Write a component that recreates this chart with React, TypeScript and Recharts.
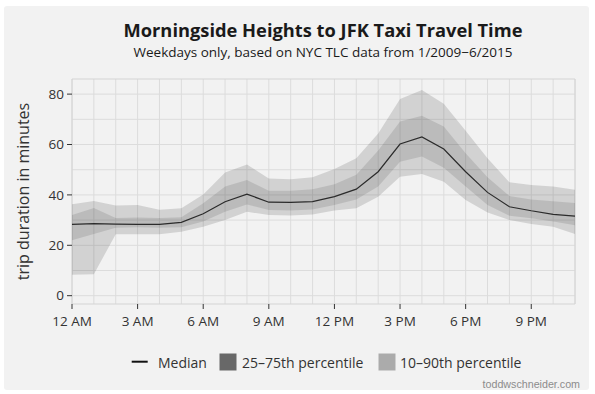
import React from "react";
import { ComposedChart, Area, Line, XAxis, YAxis, CartesianGrid, ReferenceArea } from "recharts";

const hours = [0, 1, 2, 3, 4, 5, 6, 7, 8, 9, 10, 11, 12, 13, 14, 15, 16, 17, 18, 19, 20, 21, 22, 23];
const median = [28.3, 28.6, 28.4, 28.3, 28.3, 29.1, 32.5, 37.3, 40.3, 37.1, 37.0, 37.3, 39.3, 42.3, 49.2, 60.2, 63.0, 58.2, 49.2, 41.0, 35.3, 33.7, 32.3, 31.6];
const p75 = [32.0, 34.8, 30.8, 31.0, 30.8, 31.1, 36.7, 43.3, 45.9, 41.6, 41.6, 42.2, 44.2, 48.0, 57.6, 69.1, 71.4, 67.1, 56.5, 47.0, 39.6, 38.2, 37.5, 36.8];
const p25 = [22.0, 24.5, 27.0, 27.2, 27.0, 27.2, 29.4, 33.3, 36.2, 34.0, 33.8, 34.2, 36.0, 38.2, 43.3, 53.2, 55.2, 50.8, 43.3, 36.0, 31.7, 30.7, 29.4, 28.0];
const p90 = [36.3, 37.6, 35.8, 36.0, 34.1, 34.7, 40.2, 48.9, 52.1, 46.5, 46.2, 47.0, 50.3, 54.5, 64.4, 78.1, 81.6, 76.2, 65.5, 54.5, 45.0, 43.9, 43.3, 42.0];
const p10 = [8.3, 8.5, 24.4, 24.4, 24.4, 25.4, 27.4, 30.0, 33.3, 32.0, 31.8, 32.2, 33.8, 34.7, 39.3, 47.2, 48.3, 45.2, 38.0, 33.0, 30.0, 28.5, 27.4, 24.5];

const xTicks = [0, 3, 6, 9, 12, 15, 18, 21];
const xTickLabels = ["12 AM", "3 AM", "6 AM", "9 AM", "12 PM", "3 PM", "6 PM", "9 PM"];
const yTicks = [0, 20, 40, 60, 80];
const yGrid = [0, 10, 20, 30, 40, 50, 60, 70, 80];
const yDomain = [-3.3, 86];

const title = "Morningside Heights to JFK Taxi Travel Time";
const subtitle = "Weekdays only, based on NYC TLC data from 1/2009\u22126/2015";
const yLabel = "trip duration in minutes";
const legendLabels = ["Median", "25\u201375th percentile", "10\u201390th percentile"];
const credit = "toddwschneider.com";

const data = hours.map((h, i) => ({
  hour: h,
  median: median[i],
  band90: [p10[i], p90[i]],
  band50: [p25[i], p75[i]],
}));

const FONT = "'Open Sans', 'Noto Sans', sans-serif";

export default function App() {
  return (
    <div style={{ position: "absolute", left: 0, top: 0, width: 595, height: 394, background: "#ffffff", fontFamily: FONT }}>
      <div style={{ position: "absolute", left: 4, top: 6, width: 585, height: 384, background: "#f2f2f2", borderRadius: 3 }} />
      <div style={{ position: "absolute", left: 0, top: 0 }}>
        <ComposedChart width={595} height={394} data={data} margin={{ top: 79, right: 20, bottom: 60, left: 32 }}>
          <CartesianGrid
            stroke="#dcdcdc"
            strokeWidth={1}
            verticalValues={hours}
            horizontalValues={yGrid}
          />
          <XAxis
            dataKey="hour"
            type="number"
            domain={[0, 23]}
            ticks={xTicks}
            tickFormatter={(v) => xTickLabels[xTicks.indexOf(v)]}
            axisLine={false}
            tickLine={{ stroke: "#333333" }}
            tickSize={5}
            tickMargin={7}
            height={30}
            tick={{ fill: "#333333", fontSize: 13.5, fontFamily: FONT }}
            interval={0}
          />
          <YAxis
            type="number"
            domain={yDomain}
            allowDataOverflow
            ticks={yTicks}
            axisLine={false}
            tickLine={{ stroke: "#333333" }}
            tickSize={5}
            tickMargin={3}
            width={40}
            tick={{ fill: "#333333", fontSize: 13.5, fontFamily: FONT }}
            interval={0}
          />
          <ReferenceArea x1={0} x2={23} y1={yDomain[0]} y2={yDomain[1]} fill="none" stroke="#d4d4d4" strokeWidth={1} ifOverflow="visible" />
          <Area type="linear" dataKey="band90" stroke="none" fill="#000000" fillOpacity={0.13} isAnimationActive={false} />
          <Area type="linear" dataKey="band50" stroke="none" fill="#000000" fillOpacity={0.105} isAnimationActive={false} />
          <Line type="linear" dataKey="median" stroke="#2b2b2b" strokeWidth={1.2} dot={false} isAnimationActive={false} />
        </ComposedChart>
      </div>
      <svg width={595} height={394} style={{ position: "absolute", left: 0, top: 0, pointerEvents: "none" }}>
        <text x={323} y={37} textAnchor="middle" fontSize={18.3} fontWeight="bold" fill="#1a1a1a" fontFamily={FONT}>{title}</text>
        <text x={323} y={57} textAnchor="middle" fontSize={13.5} fill="#1a1a1a" fontFamily={FONT}>{subtitle}</text>
        <text x={29} y={191.5} textAnchor="middle" fontSize={16} fill="#333333" fontFamily={FONT} transform="rotate(-90 29 191.5)">{yLabel}</text>
        <line x1={131.7} x2={147.7} y1={361.7} y2={361.7} stroke="#111111" strokeWidth={2} />
        <text x={158} y={367.5} fontSize={14} fill="#333333" fontFamily={FONT}>{legendLabels[0]}</text>
        <rect x={219.5} y={353.5} width={17} height={17} fill="#686868" />
        <text x={242} y={367.5} fontSize={14} fill="#333333" fontFamily={FONT}>{legendLabels[1]}</text>
        <rect x={378.5} y={353.5} width={17} height={17} fill="#ababab" />
        <text x={400} y={367.5} fontSize={14} fill="#333333" fontFamily={FONT}>{legendLabels[2]}</text>
        <text x={580} y={388} textAnchor="end" fontSize={10.7} fill="#8c8c8c" fontFamily="'Liberation Sans', Arial, sans-serif">{credit}</text>
      </svg>
    </div>
  );
}
